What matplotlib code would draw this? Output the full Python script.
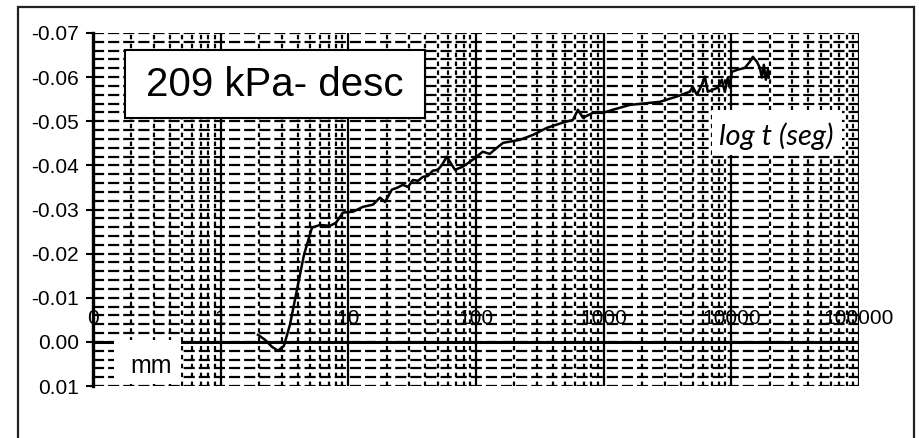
import matplotlib
matplotlib.use("Agg")
import matplotlib.pyplot as plt
import matplotlib.ticker as mticker
from matplotlib.patches import Rectangle
import matplotlib.transforms as mtransforms

# ---- data ----
time_s = [1.96, 2.22, 2.52, 2.81, 3.13, 3.49, 3.96, 4.49, 5.19, 6.0, 7.18, 8.0,
          9.08, 10.9, 13.0, 15.6, 17.7, 19.4, 21.9, 24.0, 26.8, 29.3, 32.1, 35.1,
          38.4, 42.0, 45.9, 50.3, 54.1, 59.2, 62.5, 68.4, 78.9, 94.6, 113, 128,
          146, 163, 221, 279, 359, 480, 574, 629, 688, 823, 986, 1180, 1600,
          2750, 3740, 4730, 4990, 5370, 5880, 6200, 6540, 7830, 8420, 8890,
          9380, 9730, 10090, 11240, 12760, 13970, 14740, 15850, 16720, 17340,
          17970, 18640, 19330, 19680]
deform_mm = [-0.0016, -0.0005, 0.0011, 0.0020, 0.0009, -0.0039, -0.0118,
             -0.0197, -0.0259, -0.0265, -0.0263, -0.0270, -0.0293, -0.0295,
             -0.0306, -0.0311, -0.0327, -0.0317, -0.0345, -0.0349, -0.0356,
             -0.0351, -0.0367, -0.0365, -0.0374, -0.0376, -0.0388, -0.0390,
             -0.0401, -0.0420, -0.0408, -0.0390, -0.0397, -0.0413, -0.0431,
             -0.0426, -0.0440, -0.0451, -0.0458, -0.0469, -0.0485, -0.0497,
             -0.0503, -0.0526, -0.0508, -0.0519, -0.0519, -0.0526, -0.0537,
             -0.0544, -0.0556, -0.0567, -0.0578, -0.0560, -0.0583, -0.0601,
             -0.0567, -0.0576, -0.0594, -0.0567, -0.0599, -0.0576, -0.0612,
             -0.0617, -0.0621, -0.0635, -0.0646, -0.0635, -0.0621, -0.0599,
             -0.0628, -0.0594, -0.0617, -0.0599]

xtick_values = [0.1, 1, 10, 100, 1000, 10000, 100000]
xtick_labels = ["0", "1", "10", "100", "1000", "10000", "100000"]
ytick_values = [-0.07, -0.06, -0.05, -0.04, -0.03, -0.02, -0.01, 0.0, 0.01]
ytick_labels = ["-0.07", "-0.06", "-0.05", "-0.04", "-0.03", "-0.02", "-0.01", "0.00", "0.01"]
title_text = "209 kPa- desc"
xlabel_text = "log t (seg)"
ylabel_text = "mm"

plt.rcParams['font.family'] = ['Liberation Sans', 'DejaVu Sans']

W, H = 919, 438
fig = plt.figure(figsize=(W / 100, H / 100), dpi=100)
ax = fig.add_axes([93 / W, 1 - 386 / H, (859 - 93) / W, (386 - 33) / H])

ax.set_xscale('log')
ax.set_xlim(0.1, 100000)
ax.set_ylim(0.01, -0.07)

# gridlines
ax.xaxis.set_major_locator(mticker.LogLocator(base=10, numticks=20))
ax.xaxis.set_minor_locator(mticker.LogLocator(base=10, subs=range(2, 10), numticks=100))
ax.set_yticks(ytick_values)
ax.set_yticklabels(ytick_labels)
ax.yaxis.set_minor_locator(mticker.MultipleLocator(0.002))

ax.xaxis.grid(True, which='major', color='black', lw=1.6, ls='-', zorder=1)
ax.xaxis.grid(True, which='minor', color='black', lw=1.6, ls=(0, (2.0, 2.0)), zorder=1)
ax.yaxis.grid(True, which='both', color='black', lw=1.6, ls=(0, (5.0, 1.8)), zorder=1)
ax.set_axisbelow(False)

ax.tick_params(axis='x', which='both', length=0, labelbottom=False)
ax.tick_params(axis='y', which='major', length=5, width=1.5, direction='out',
               labelsize=15, pad=5, colors='black')
ax.tick_params(axis='y', which='minor', length=0)

for s in ['top', 'right', 'bottom']:
    ax.spines[s].set_visible(False)
ax.spines['left'].set_linewidth(2.4)

# horizontal axis at y=0
ax.axhline(0.0, color='black', lw=2.2, zorder=3)

# x tick labels placed along the crossing axis (drawn beneath gridlines)
trans = mtransforms.blended_transform_factory(ax.transData, ax.transData)
for xv, lab in zip(xtick_values, xtick_labels):
    ax.text(xv, -0.0054, lab, transform=trans, ha='center', va='center',
            fontsize=15, zorder=0.5, color='black')

# data line
ax.plot(time_s, deform_mm, color='black', lw=1.8, zorder=4)

# title box
fig.patches.append(Rectangle((125 / W, 1 - 118 / H), 300 / W, 68 / H,
                             transform=fig.transFigure, facecolor='white',
                             edgecolor='black', lw=1.5, zorder=5))
fig.text(275 / W, 1 - 85 / H, title_text, fontsize=29,
         ha='center', va='center', zorder=6)

# x axis label box
fig.patches.append(Rectangle((712 / W, 1 - 155 / H), 130 / W, 45 / H,
                             transform=fig.transFigure, facecolor='white',
                             edgecolor='none', zorder=5))
fig.text(776 / W, 1 - 136 / H, xlabel_text, fontsize=21, style='italic',
         family=['Lato', 'DejaVu Sans'], ha='center', va='center', zorder=6)

# y axis label box
fig.patches.append(Rectangle((114 / W, 1 - 384 / H), 67 / W, 44 / H,
                             transform=fig.transFigure, facecolor='white',
                             edgecolor='none', zorder=5))
fig.text(151 / W, 1 - 366 / H, ylabel_text, fontsize=18, ha='center', va='center',
         zorder=6)

# outer chart border
fig.patches.append(Rectangle((18 / W, -0.05), (914 - 18) / W, 1.05 - 7 / H,
                             transform=fig.transFigure, facecolor='none',
                             edgecolor='#222222', lw=1.6, zorder=10))

fig.savefig("out.png", dpi=100)
